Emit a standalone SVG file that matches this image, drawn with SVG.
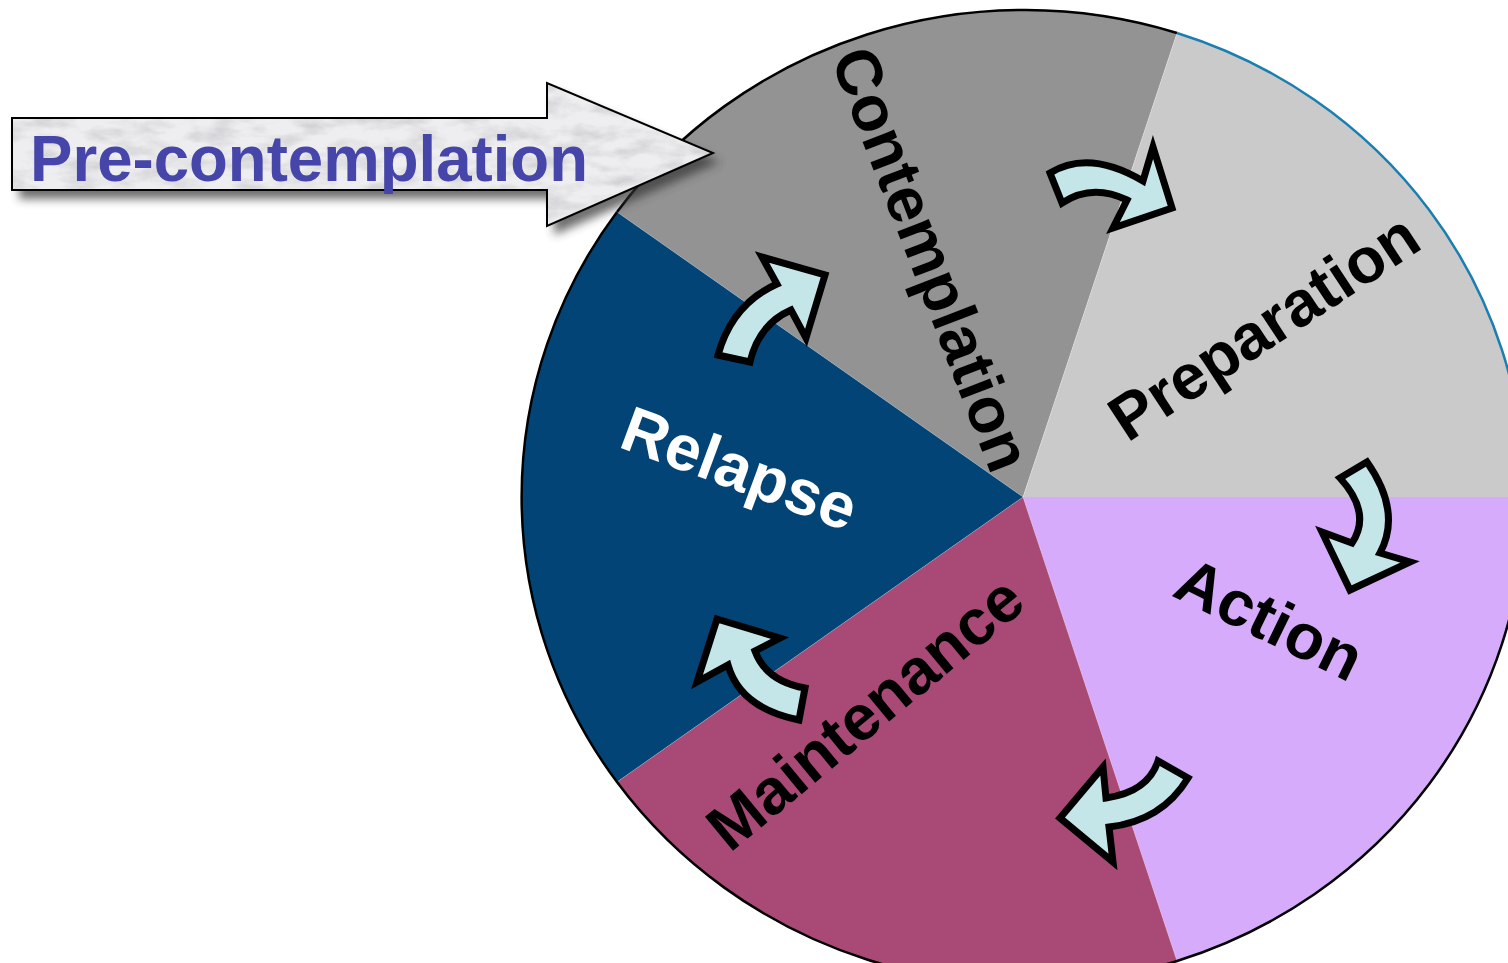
<svg xmlns="http://www.w3.org/2000/svg" width="1508" height="963" viewBox="0 0 1508 963">
<defs>
<style>
.lbl{font-family:"Liberation Sans",Arial,sans-serif;font-weight:bold;font-size:64px;}
.flow{fill:#c4e6e8;stroke:#000;stroke-width:7;stroke-linejoin:miter;stroke-miterlimit:10;}
.sep{stroke:#ffffff;stroke-opacity:0.25;stroke-width:1;fill:none;}
</style>
<filter id="blur" x="-10%" y="-30%" width="120%" height="160%">
<feGaussianBlur stdDeviation="5"/>
</filter>
<filter id="marble" x="0" y="0" width="1" height="1">
<feTurbulence type="fractalNoise" baseFrequency="0.03 0.07" numOctaves="5" seed="11" result="t"/>
<feColorMatrix in="t" type="matrix" values="0 0 0 0 0.62  0 0 0 0 0.62  0 0 0 0 0.65  1.9 0 0 0 -0.75" result="g"/>
<feComposite in="g" in2="SourceAlpha" operator="in" result="gm"/>
<feMerge><feMergeNode in="SourceGraphic"/><feMergeNode in="gm"/></feMerge>
</filter>
</defs>
<rect width="1508" height="963" fill="#ffffff"/>

<g id="contemplation">
<path d="M1023,497 L617,212 A502,486 0 0 1 1177,33 Z" fill="#939393"/>
<text class="lbl" fill="#000" text-anchor="middle" transform="translate(911,267) rotate(68.9)">Contemplation</text>
</g>
<g id="preparation">
<path d="M1023,497 L1177,33 A502,486 0 0 1 1525,497 Z" fill="#cacaca"/>
<text class="lbl" fill="#000" text-anchor="middle" transform="translate(1276,345) rotate(-33.4)">Preparation</text>
</g>
<g id="action">
<path d="M1023,497 L1525,497 A502,486 0 0 1 1177,961 Z" fill="#d6abfc"/>
<text class="lbl" fill="#000" text-anchor="middle" transform="translate(1260,639) rotate(26)">Action</text>
</g>
<g id="maintenance">
<path d="M1023,497 L1177,961 A502,486 0 0 1 617,782 Z" fill="#a94a76"/>
<text class="lbl" fill="#000" text-anchor="middle" transform="translate(879,730) rotate(-39.6)">Maintenance</text>
</g>
<g id="relapse">
<path d="M1023,497 L617,782 A502,486 0 0 1 617,212 Z" fill="#034476"/>
<text class="lbl" fill="#fff" text-anchor="middle" transform="translate(732,489) rotate(20.3)">Relapse</text>
</g>
<g id="pie-outline">
<path class="sep" d="M617,212 L1023,497 L617,782 M1177,33 L1023,497 L1177,961"/>
<path d="M617,212 A502,486 0 0 1 1177,33" fill="none" stroke="#000" stroke-width="2.5"/>
<path d="M1177,33 A502,486 0 0 1 1525,497" fill="none" stroke="#1a7fb0" stroke-width="2.5"/>
<path d="M1525,497 A502,486 0 0 1 1177,961 A502,486 0 0 1 617,782 A502,486 0 0 1 617,212" fill="none" stroke="#000" stroke-width="2.5"/>
</g>

<g id="pre-contemplation">
<polygon points="12,118 547,118 547,83 713,153 547,226 547,190 12,190" transform="translate(7,9)" fill="#333" opacity="0.7" filter="url(#blur)"/>
<polygon points="12,118 547,118 547,83 713,153 547,226 547,190 12,190" fill="#eeeef0" filter="url(#marble)"/>
<polygon points="12,118 547,118 547,83 713,153 547,226 547,190 12,190" fill="none" stroke="#000" stroke-width="2"/>
<text class="lbl" x="30" y="181" fill="#4545aa" textLength="558" lengthAdjust="spacingAndGlyphs">Pre-contemplation</text>
</g>

<g id="connectors">
<path class="flow" d="M1050,173 Q1089,149 1143,181 L1153,147 L1172,208 L1113,228 L1127,200 Q1092,183 1062,203 Z"/>
<path class="flow" d="M1340,478 L1367,462 Q1402,512 1380,553 L1410,562 L1350,590 L1322,532 L1352,543 Q1372,513 1340,478 Z"/>
<path class="flow" d="M1158,761 Q1148,792 1106,798 L1103,767 L1060,818 L1113,862 L1109,827 Q1162,821 1188,778 Z"/>
<path class="flow" d="M805,688 Q766,681 755,651 L780,638 L717,619 L697,682 L728,665 Q740,708 799,720 Z"/>
<path class="flow" d="M718,355 Q732,304 777,284 L762,257 L825,275 L806,338 L791,310 Q759,324 750,362 Z"/>
</g>
</svg>
